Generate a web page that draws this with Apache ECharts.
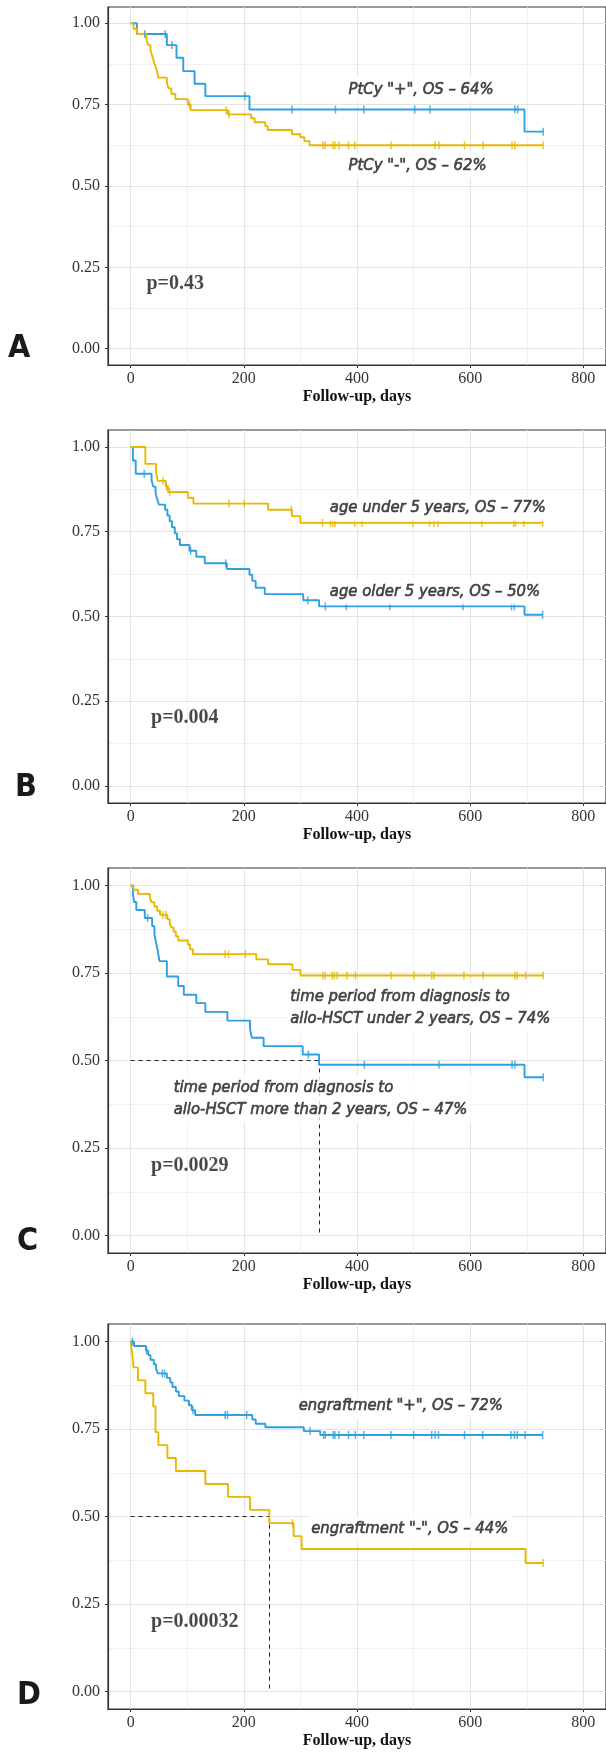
<!DOCTYPE html>
<html><head><meta charset="utf-8">
<script src="https://cdn.jsdelivr.net/npm/echarts@6/dist/echarts.min.js"></script>
<style>html,body{margin:0;padding:0;background:#fff}#c{width:606px;height:1754px}</style>
</head><body><div id="c"></div>
<script>
// ---------- data ----------
const xTicks = [0, 200, 400, 600, 800];
const xMinor = [100, 300, 500, 700];
const yTicks = [0, 0.25, 0.5, 0.75, 1];
const yMinor = [0.125, 0.375, 0.625, 0.875];
const xTitle = 'Follow-up, days';
const panelLetters = ['A', 'B', 'C', 'D'];
const pValues = ['p=0.43', 'p=0.004', 'p=0.0029', 'p=0.00032'];

// Panel A
const aBlue = [[0,1],[11,0.967],[64,0.933],[81,0.894],[93,0.853],[113,0.814],[132,0.776],[210,0.735],[696,0.667],[729,0.667]];
const aBlueCens = [25,61,73,202,285,362,412,502,529,679,684,729];
const aYellow = [[0,1],[5,0.983],[11,0.967],[28,0.95],[31,0.933],[35,0.917],[38,0.9],[41,0.883],[44,0.867],[47,0.85],[49,0.833],[64,0.817],[67,0.8],[72,0.783],[79,0.767],[101,0.75],[106,0.733],[172,0.72],[213,0.708],[219,0.696],[238,0.684],[242,0.672],[285,0.659],[300,0.65],[307,0.638],[316,0.625],[729,0.625]];
const aYellowCens = [104,169,174,340,344,357,361,368,385,396,460,538,545,590,623,674,679,729];
const aLabels = ['PtCy "+", OS – 64%', 'PtCy "-", OS – 62%'];

// Panel B
const bYellow = [[0,1],[26,0.95],[45,0.925],[48,0.9],[62,0.885],[66,0.867],[101,0.85],[111,0.833],[243,0.815],[285,0.796],[300,0.776],[728,0.776]];
const bYellowCens = [57,63,69,174,201,284,339,353,357,361,396,409,499,528,536,543,621,677,680,695,728];
const bBlue = [[0,1],[4,0.96],[9,0.921],[37,0.902],[40,0.883],[44,0.864],[47,0.845],[50,0.83],[61,0.815],[65,0.798],[69,0.781],[73,0.763],[78,0.745],[82,0.728],[87,0.711],[104,0.694],[116,0.676],[131,0.657],[170,0.64],[210,0.623],[215,0.605],[221,0.585],[237,0.566],[305,0.548],[333,0.53],[696,0.505],[728,0.505]];
const bBlueCens = [24,106,168,313,344,381,458,587,673,678,728];
const bLabels = ['age under 5 years, OS – 77%', 'age older 5 years, OS – 50%'];

// Panel C
const cYellow = [[0,1],[5,0.988],[13,0.976],[34,0.964],[37,0.952],[42,0.94],[47,0.928],[52,0.916],[65,0.904],[69,0.892],[72,0.88],[76,0.868],[80,0.855],[84,0.843],[101,0.831],[105,0.818],[110,0.804],[222,0.789],[243,0.775],[286,0.759],[300,0.743],[729,0.743]];
const cYellowCens = [57,62,167,173,203,340,344,356,360,365,382,397,460,501,532,536,589,623,679,683,698,729];
const cBlue = [[0,1],[4,0.977],[6,0.953],[10,0.93],[25,0.907],[38,0.884],[42,0.86],[45,0.836],[48,0.812],[51,0.784],[64,0.74],[84,0.713],[94,0.688],[116,0.664],[132,0.639],[171,0.614],[211,0.59],[214,0.565],[235,0.541],[304,0.517],[333,0.488],[696,0.452],[729,0.452]];
const cBlueCens = [30,314,413,545,674,679,729];
const cLabels = ['time period from diagnosis to\nallo-HSCT under 2 years, OS – 74%', 'time period from diagnosis to\nallo-HSCT more than 2 years, OS – 47%'];
const cMedian = 333;

// Panel D
const dBlue = [[0,1],[6,0.987],[27,0.974],[31,0.961],[35,0.948],[41,0.935],[45,0.922],[48,0.909],[64,0.896],[70,0.883],[74,0.87],[80,0.857],[85,0.844],[95,0.831],[103,0.818],[108,0.804],[114,0.79],[215,0.777],[221,0.765],[238,0.755],[306,0.744],[335,0.733],[728,0.733]];
const dBlueCens = [3,28,56,60,110,167,171,205,317,341,344,358,361,368,385,397,412,460,500,532,538,544,590,622,672,678,683,697,728];
const dYellow = [[0,1],[3,0.963],[5,0.926],[13,0.889],[26,0.852],[40,0.815],[44,0.741],[49,0.704],[65,0.667],[80,0.63],[132,0.593],[172,0.556],[211,0.519],[245,0.481],[288,0.444],[302,0.407],[698,0.367],[729,0.367]];
const dYellowCens = [286,729];
const dLabels = ['engraftment "+", OS – 72%', 'engraftment "-", OS – 44%'];
const dMedian = 245;

// ---------- styling / layout ----------
const BLUE = '#2E9FDF', YELLOW = '#E7B800';
const SERIF = "'Liberation Serif','DejaVu Serif',serif";
const COND = "'Liberation Sans Narrow','DejaVu Sans Condensed','Roboto',sans-serif";
const X_MIN = -40, X_MAX = 840, Y_MIN = -0.05, Y_MAX = 1.05;

const panels = [
  { top: 7, height: 358, letterPos: [8, 350],
    curves: [[aBlue, aBlueCens, BLUE], [aYellow, aYellowCens, YELLOW]],
    labels: [[aLabels[0], 385, 0.797], [aLabels[1], 385, 0.563]], pPos: [28, 0.2], median: null },
  { top: 430, height: 373, letterPos: [15, 789],
    curves: [[bBlue, bBlueCens, BLUE], [bYellow, bYellowCens, YELLOW]],
    labels: [[bLabels[0], 352, 0.82], [bLabels[1], 352, 0.573]], pPos: [36, 0.2], median: null },
  { top: 868, height: 385, letterPos: [17, 1243],
    curves: [[cBlue, cBlueCens, BLUE], [cYellow, cYellowCens, YELLOW]],
    labels: [[cLabels[0], 282, 0.652], [cLabels[1], 76, 0.39]], pPos: [36, 0.2], median: cMedian },
  { top: 1324, height: 385, letterPos: [17, 1697],
    curves: [[dBlue, dBlueCens, BLUE], [dYellow, dYellowCens, YELLOW]],
    labels: [[dLabels[0], 297, 0.816], [dLabels[1], 319, 0.464]], pPos: [36, 0.2], median: dMedian }
];

function kmAt(curve, t) {
  let v = curve[0][1];
  for (const p of curve) { if (p[0] <= t) v = p[1]; else break; }
  return v;
}

const grid = [], xAxis = [], yAxis = [], series = [], graphic = [];
panels.forEach((P, i) => {
  grid.push({ left: 108, width: 504, top: P.top, height: P.height, show: true,
    borderColor: '#333', borderWidth: 1.2, backgroundColor: '#fff' });
  xAxis.push({ gridIndex: i, type: 'value', min: X_MIN, max: X_MAX,
    axisLine: { show: true, onZero: false, lineStyle: { color: '#333', width: 1.2 } },
    axisTick: { show: true, customValues: xTicks, length: 3, lineStyle: { color: '#333', width: 1 } },
    axisLabel: { customValues: xTicks, fontFamily: SERIF, fontSize: 16, color: '#333', margin: 6 },
    splitLine: { show: false },
    name: xTitle, nameLocation: 'middle', nameGap: 24,
    nameTextStyle: { fontFamily: SERIF, fontWeight: 'bold', fontSize: 16, color: '#111' } });
  yAxis.push({ gridIndex: i, type: 'value', min: Y_MIN, max: Y_MAX,
    axisLine: { show: true, onZero: false, lineStyle: { color: '#333', width: 1.2 } },
    axisTick: { show: true, customValues: yTicks, length: 3, lineStyle: { color: '#333', width: 1 } },
    axisLabel: { customValues: yTicks, fontFamily: SERIF, fontSize: 16, color: '#333', margin: 8,
      formatter: v => Number(v).toFixed(2) },
    splitLine: { show: false } });

  // grid lines
  const gl = [];
  xMinor.forEach(x => gl.push({ coords: [[x, Y_MIN], [x, Y_MAX]], lineStyle: { color: '#eeeeee', width: 0.8 } }));
  yMinor.forEach(y => gl.push({ coords: [[X_MIN, y], [X_MAX, y]], lineStyle: { color: '#eeeeee', width: 0.8 } }));
  xTicks.forEach(x => gl.push({ coords: [[x, Y_MIN], [x, Y_MAX]], lineStyle: { color: '#e3e3e3', width: 1.1 } }));
  yTicks.forEach(y => gl.push({ coords: [[X_MIN, y], [X_MAX, y]], lineStyle: { color: '#e3e3e3', width: 1.1 } }));
  series.push({ type: 'lines', coordinateSystem: 'cartesian2d', xAxisIndex: i, yAxisIndex: i,
    silent: true, z: 0, data: gl, lineStyle: { opacity: 1 } });

  if (P.median !== null) {
    series.push({ type: 'lines', coordinateSystem: 'cartesian2d', xAxisIndex: i, yAxisIndex: i,
      silent: true, z: 1,
      lineStyle: { color: '#222', width: 1, type: [4, 4], opacity: 1 },
      data: [{ coords: [[0, 0.5], [P.median, 0.5]] }, { coords: [[P.median, 0.5], [P.median, 0]] }] });
  }

  P.curves.forEach(([curve, cens, color]) => {
    series.push({ type: 'line', step: 'end', xAxisIndex: i, yAxisIndex: i, data: curve,
      symbol: 'none', showSymbol: false, silent: true, z: 2,
      lineStyle: { color, width: 1.9 } });
    series.push({ type: 'scatter', xAxisIndex: i, yAxisIndex: i, silent: true, z: 3,
      data: cens.map(t => [t, kmAt(curve, t)]),
      symbol: 'rect', symbolSize: [1.5, 8], itemStyle: { color } });
  });

  const annot = P.labels.map(([txt, x, y]) => ({ value: [x, y], label: {
    formatter: txt, fontFamily: COND, fontStyle: 'italic', fontWeight: 'normal', fontSize: 16.5, lineHeight: 22,
    color: '#222', textBorderColor: '#222', textBorderWidth: 0.6,
    backgroundColor: '#fff', padding: [2, 4] } }));
  annot.push({ value: P.pPos, label: { formatter: pValues[i], fontFamily: SERIF, fontWeight: 'bold',
    fontSize: 20, color: '#1a1a1a', padding: [2, 4] } });
  series.push({ type: 'scatter', xAxisIndex: i, yAxisIndex: i, silent: true, z: 5,
    symbolSize: 0, data: annot,
    label: { show: true, position: 'right', distance: 0, offset: [-4, 0] } });

  graphic.push({ type: 'text', left: P.letterPos[0], top: P.letterPos[1] - 17,
    style: { text: panelLetters[i], font: "bold 32px 'Liberation Sans Narrow','DejaVu Sans Condensed',sans-serif",
      fill: '#1a1a1a' } });
});

const chart = echarts.init(document.getElementById('c'), null, { renderer: 'canvas' });
chart.setOption({ animation: false, backgroundColor: '#fff', grid, xAxis, yAxis, series, graphic });
</script>
</body></html>
